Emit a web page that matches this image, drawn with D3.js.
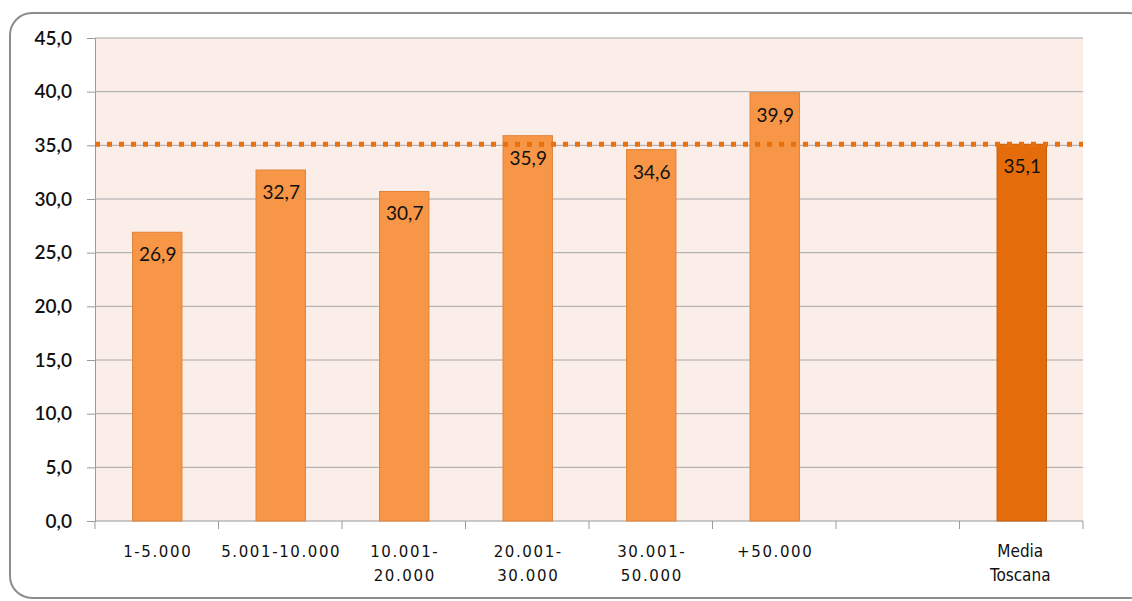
<!DOCTYPE html>
<html><head><meta charset="utf-8">
<script src="https://cdn.jsdelivr.net/npm/d3@7"></script>
<style>body{margin:0;background:#fff}svg{display:block}</style>
</head><body>
<svg id="c" width="1132" height="601"></svg>
<script>
const categories = ["1-5.000","5.001-10.000","10.001-20.000","20.001-30.000","30.001-50.000","+50.000","","Media Toscana"];
const catLines = [["1-5.000"],["5.001-10.000"],["10.001-","20.000"],["20.001-","30.000"],["30.001-","50.000"],["+50.000"],[""],["Media","Toscana"]];
const values = [26.9, 32.7, 30.7, 35.9, 34.6, 39.9, null, 35.1];
const average = 35.1;
const yTicks = [0,5,10,15,20,25,30,35,40,45];

const svg = d3.select("#c");
const m = {l:95, r:1083, t:38, b:521};
const fmt = v => v.toFixed(1).replace(".", ",");

// outer frame
svg.append("rect").attr("x",10).attr("y",13).attr("width",1140).attr("height",585)
  .attr("rx",22).attr("fill","#fff").attr("stroke","#8c8c8c").attr("stroke-width",2);

const x = d3.scaleBand().domain(categories.map((c,i)=>i)).range([m.l,m.r]).paddingInner(0).paddingOuter(0);
const y = d3.scaleLinear().domain([0,45]).range([m.b,m.t]);

svg.append("rect").attr("x",m.l).attr("y",m.t).attr("width",m.r-m.l).attr("height",m.b-m.t).attr("fill","#FBEDE8");

// y axis
const yAxis = d3.axisLeft(y).tickValues(yTicks).tickSize(8).tickFormat(fmt);
const gy = svg.append("g").attr("transform",`translate(${m.l},0)`).call(yAxis);
gy.select(".domain").attr("stroke","#999");
gy.selectAll(".tick line").attr("stroke","#999");
gy.selectAll(".tick text").attr("font-family","Lato, sans-serif").attr("font-size",19).attr("font-weight",600).attr("fill","#111").attr("x",-23);
svg.append("g").selectAll("line").data(yTicks.filter(t=>t>0)).join("line")
  .attr("x1",m.l).attr("x2",m.r).attr("y1",d=>y(d)).attr("y2",d=>y(d)).attr("stroke","#a6a6a6").attr("stroke-width",1);

// x axis with ticks at band edges
const gx = svg.append("g").attr("transform",`translate(0,${m.b})`);
gx.append("line").attr("x1",m.l).attr("x2",m.r).attr("stroke","#999");
const edges = d3.range(categories.length+1).map(i => m.l + i*x.bandwidth());
gx.selectAll("line.tk").data(edges).join("line").attr("class","tk")
  .attr("x1",d=>d).attr("x2",d=>d).attr("y1",0).attr("y2",8).attr("stroke","#999");

// bars
const bw = x.bandwidth()*0.4;
const data = values.map((v,i)=>({v,i})).filter(d=>d.v!==null);
svg.append("g").selectAll("rect").data(data).join("rect")
  .attr("x",d=>x(d.i)+x.bandwidth()/2-bw/2+0.5).attr("width",bw)
  .attr("y",d=>y(d.v)).attr("height",d=>y(0)-y(d.v))
  .attr("fill",d=>d.i===7?"#E46C0A":"#F79646")
  .attr("stroke",d=>d.i===7?"#C65D0A":"#E0833A").attr("stroke-width",1);

// average dotted line
svg.append("line").attr("x1",m.l).attr("x2",m.r).attr("y1",y(average)).attr("y2",y(average))
  .attr("stroke","#E8700E").attr("stroke-width",5).attr("stroke-dasharray","5,7");

// value labels
svg.append("g").selectAll("text").data(data).join("text")
  .attr("x",d=>x(d.i)+x.bandwidth()/2+1).attr("y",d=>y(d.v)+29)
  .attr("text-anchor","middle").attr("font-family","Lato, sans-serif").attr("font-size",19)
  .attr("fill","#111").text(d=>fmt(d.v));

// category labels
const cl = svg.append("g");
catLines.forEach((lines,i)=>{
  const narrow = i===7;
  const t = cl.append("text").attr("text-anchor","middle")
    .attr("font-family", narrow ? "'Liberation Sans Narrow', 'DejaVu Sans Condensed', sans-serif" : "'DejaVu Sans', sans-serif")
    .attr("font-size", narrow ? 17 : 15).attr("letter-spacing", narrow ? 0 : 1.6).attr("fill","#111");
  lines.forEach((s,k)=>{
    t.append("tspan").attr("x", x(i)+x.bandwidth()/2+(narrow?-1:1)).attr("y", 557+k*24).text(s);
  });
});
</script>
</body></html>
